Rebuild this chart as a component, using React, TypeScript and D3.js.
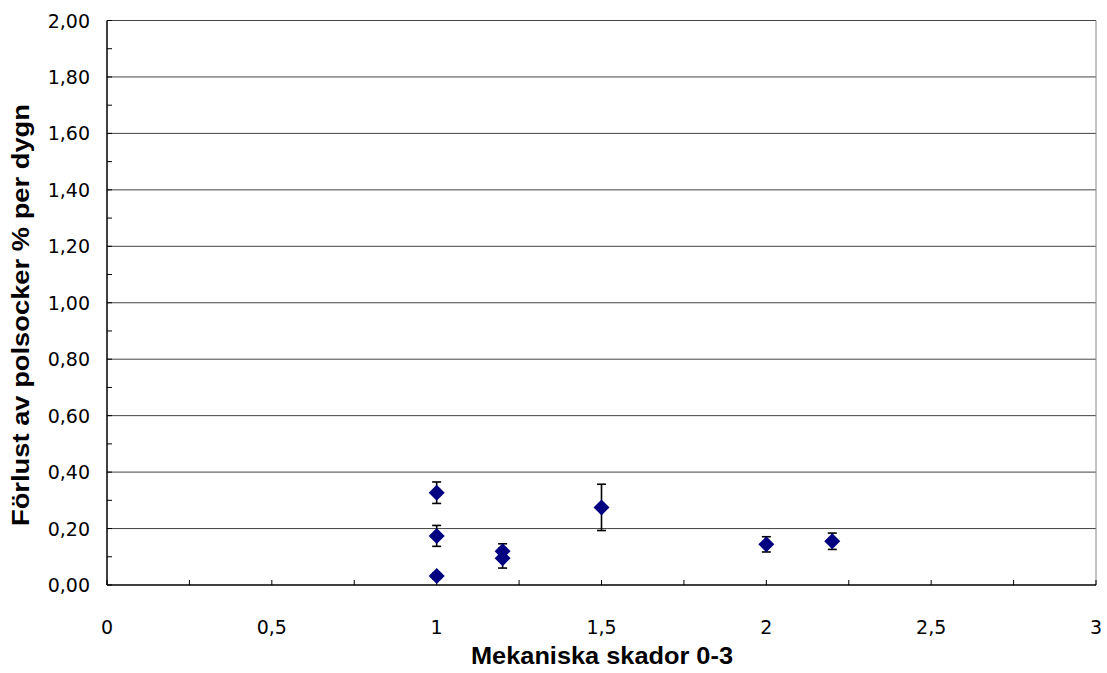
import React from "react";
import * as d3 from "d3";

const xValues = [1, 1, 1, 1.2, 1.2, 1.5, 2, 2.2];
const yValues = [0.327, 0.174, 0.032, 0.12, 0.095, 0.275, 0.144, 0.155];
const errValues = [0.038, 0.037, 0.01, 0.026, 0.035, 0.082, 0.027, 0.029];
const xTickLabels = [0, 0.5, 1, 1.5, 2, 2.5, 3];
const yTickLabels = [0, 0.2, 0.4, 0.6, 0.8, 1.0, 1.2, 1.4, 1.6, 1.8, 2.0];

const W = 1107;
const H = 673;
const left = 107, right = 1096, top = 20.5, bottom = 585;

export default function App() {
  const x = d3.scaleLinear().domain([0, 3]).range([left, right]);
  const y = d3.scaleLinear().domain([0, 2]).range([bottom, top]);
  const fmtY = (v: number) => v.toFixed(2).replace(".", ",");
  const fmtX = (v: number) => String(v).replace(".", ",");
  const minorX = d3.range(0, 3.001, 0.25);
  const minorY = d3.range(0, 2.001, 0.1);
  const r = 8;
  const tickFont = "'DejaVu Sans', Verdana, sans-serif";
  const titleFont = "Arial, 'Liberation Sans', sans-serif";
  return (
    <svg width={W} height={H} style={{ position: "absolute", left: 0, top: 0 }}>
      <rect width={W} height={H} fill="#fff" />
      {yTickLabels.slice(1).map((v) => (
        <line key={"g" + v} x1={left} x2={right} y1={y(v)} y2={y(v)} stroke="#444" strokeWidth={1} />
      ))}
      <line x1={right} x2={right} y1={top} y2={bottom} stroke="#888" strokeWidth={1} />
      {minorY.map((v) => (
        <line key={"my" + v} x1={left} x2={left + 5} y1={y(v)} y2={y(v)} stroke="#000" strokeWidth={1} />
      ))}
      {minorX.map((v) => (
        <line key={"mx" + v} x1={x(v)} x2={x(v)} y1={bottom} y2={bottom - 5} stroke="#000" strokeWidth={1} />
      ))}
      <line x1={left} x2={left} y1={top} y2={bottom} stroke="#000" strokeWidth={1.5} />
      <line x1={left} x2={right} y1={bottom} y2={bottom} stroke="#000" strokeWidth={1.5} />
      {yTickLabels.map((v) => (
        <text key={"yl" + v} x={90} y={y(v) + 7} textAnchor="end" fontSize={19} fontFamily={tickFont} fill="#000">{fmtY(v)}</text>
      ))}
      {xTickLabels.map((v) => (
        <text key={"xl" + v} x={x(v)} y={634} textAnchor="middle" fontSize={19} fontFamily={tickFont} fill="#000">{fmtX(v)}</text>
      ))}
      {xValues.map((xv, i) => {
        const cx = x(xv);
        const y1 = y(yValues[i] + errValues[i]);
        const y2 = y(yValues[i] - errValues[i]);
        return (
          <g key={"e" + i} stroke="#000" strokeWidth={1.6}>
            <line x1={cx} x2={cx} y1={y1} y2={y2} />
            <line x1={cx - 4.5} x2={cx + 4.5} y1={y1} y2={y1} />
            <line x1={cx - 4.5} x2={cx + 4.5} y1={y2} y2={y2} />
          </g>
        );
      })}
      {xValues.map((xv, i) => {
        const cx = x(xv);
        const cy = y(yValues[i]);
        return (
          <path key={"p" + i} d={`M${cx},${cy - r}L${cx + r},${cy}L${cx},${cy + r}L${cx - r},${cy}Z`} fill="#000080" />
        );
      })}
      <text x={602} y={664} textAnchor="middle" fontSize={24} fontWeight="bold" fontFamily={titleFont} fill="#000" textLength={262} lengthAdjust="spacingAndGlyphs">Mekaniska skador 0-3</text>
      <text transform={`translate(29,315) rotate(-90)`} textAnchor="middle" fontSize={24} fontWeight="bold" fontFamily={titleFont} fill="#000" textLength={422} lengthAdjust="spacingAndGlyphs">Förlust av polsocker % per dygn</text>
    </svg>
  );
}
